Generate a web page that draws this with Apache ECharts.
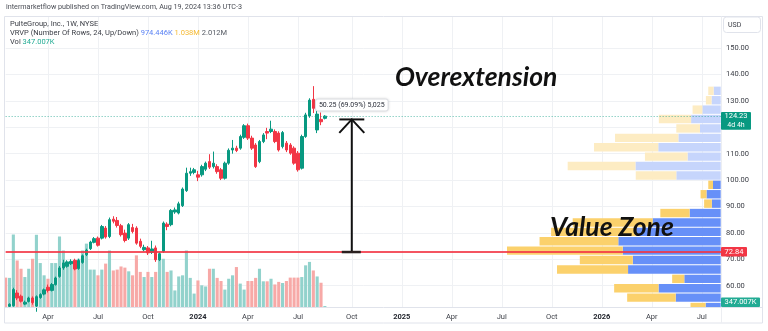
<!DOCTYPE html>
<html>
<head>
<meta charset="utf-8">
<script src="https://cdn.jsdelivr.net/npm/echarts@6/dist/echarts.min.js"></script>
<style>
  html, body { margin: 0; padding: 0; background: #ffffff; }
  #chart { width: 768px; height: 331px; }
</style>
</head>
<body>
<div id="chart"></div>
<script>
// ---- Weekly PulteGroup (PHM) bars, NYSE ----
// Time scale: one category per week (Mondays), running past the last bar into 2026.
const firstWeek = '2023-01-16';
const weekCount = 187;

// Weekly bars from 2023-01-16 to 2024-08-19: [open, close, low, high]
const ohlc = [
  [51.8, 51.2, 50.4, 52.3], [52.2, 52.9, 51.5, 53.3], [52.4, 58.5, 52.0, 59.2], [57.2, 55.3, 54.5, 58.3],
  [56.0, 54.1, 53.6, 56.6], [53.0, 53.7, 52.6, 54.3], [54.0, 55.3, 53.6, 55.8], [55.3, 53.6, 52.8, 55.9],
  [52.3, 55.8, 50.1, 56.3], [55.5, 56.6, 55.0, 57.1], [56.8, 58.4, 56.3, 58.9], [59.4, 58.2, 57.4, 60.4],
  [58.2, 60.4, 57.8, 61.0], [60.4, 62.9, 60.0, 63.4], [63.5, 66.7, 63.0, 67.4], [66.7, 68.6, 66.0, 69.8],
  [67.3, 69.0, 66.8, 69.6], [68.3, 69.2, 67.8, 70.0], [69.6, 66.3, 65.8, 70.2], [66.5, 69.5, 66.0, 70.2],
  [68.8, 71.3, 68.3, 71.8], [71.7, 73.4, 71.2, 74.0], [74.0, 76.5, 73.5, 77.0], [76.4, 77.8, 76.0, 78.4],
  [78.0, 75.3, 74.8, 78.6], [78.0, 82.4, 77.5, 83.0], [81.8, 78.4, 77.8, 82.6], [78.6, 85.0, 78.0, 85.8],
  [85.2, 84.4, 83.6, 86.3], [84.7, 82.8, 82.0, 86.0], [82.7, 79.3, 78.6, 83.4], [79.9, 77.1, 76.4, 81.2],
  [78.0, 83.1, 77.3, 83.7], [82.0, 80.5, 79.8, 83.4], [81.8, 76.1, 75.5, 82.5], [76.8, 74.9, 74.2, 77.8],
  [73.6, 74.5, 73.0, 75.5], [74.3, 72.4, 71.6, 75.0], [72.6, 73.9, 72.0, 77.0], [74.3, 69.8, 69.0, 75.2],
  [69.8, 72.1, 69.3, 72.6], [73.0, 83.7, 72.4, 84.3], [83.3, 82.4, 81.0, 84.0], [83.1, 88.5, 82.5, 89.0],
  [87.9, 88.7, 87.2, 89.6], [87.5, 91.0, 87.0, 91.8], [90.3, 96.6, 89.8, 97.2], [96.0, 102.6, 95.5, 104.7],
  [102.6, 103.2, 101.6, 104.7], [102.9, 103.9, 102.2, 104.6], [102.0, 101.1, 99.6, 103.5], [102.0, 105.1, 101.3, 105.8],
  [104.1, 106.4, 103.4, 107.0], [107.0, 104.9, 104.2, 109.8], [105.1, 106.4, 104.4, 110.8], [105.1, 103.2, 102.4, 106.0],
  [103.9, 100.7, 100.0, 104.6], [100.7, 106.4, 100.2, 107.0], [106.4, 111.3, 105.8, 112.0], [111.4, 112.1, 110.0, 115.2],
  [112.1, 111.2, 110.6, 113.0], [112.1, 116.5, 111.5, 117.2], [116.2, 120.6, 115.6, 121.2], [120.6, 115.9, 115.2, 121.4],
  [115.9, 112.1, 111.4, 116.8], [113.3, 105.1, 104.6, 114.0], [107.0, 114.6, 106.4, 115.2], [114.6, 117.1, 114.0, 117.8],
  [118.4, 117.8, 115.5, 119.8], [118.4, 119.3, 117.8, 122.5], [118.4, 114.6, 114.0, 119.2], [117.8, 111.4, 110.8, 118.5],
  [112.7, 118.0, 112.0, 118.6], [114.0, 111.4, 110.6, 114.8], [113.3, 110.2, 109.6, 114.0], [112.1, 106.4, 105.8, 112.8],
  [110.2, 103.9, 103.2, 111.0], [104.5, 116.5, 104.0, 117.2], [116.5, 124.7, 116.0, 125.5], [124.3, 130.3, 123.6, 131.0],
  [130.6, 127.2, 125.4, 135.6], [119.0, 125.0, 117.8, 126.5], [123.0, 122.1, 120.8, 125.6], [123.4, 124.23, 123.0, 124.6]
];

// Weekly volume, millions of shares (last week still in progress)
const volume = [
  10.3, 10.2, 25.4, 16.3, 13.4, 10.5, 13.4, 16.9, 25.3, 15.4, 11.1, 9.9,
  15.4, 15.4, 24.7, 19.8, 14.2, 15.8, 15.8, 16.9, 19.8, 22.2, 13.1, 13.1,
  11.1, 13.1, 15.2, 19.8, 12.8, 13.1, 14.2, 13.8, 12.5, 11.1, 18.1, 12.3,
  10.5, 12.3, 10.5, 12.3, 16.9, 16.9, 12.3, 12.8, 5.8, 10.7, 11.1, 19.8,
  10.2, 4.7, 9.3, 7.6, 7.2, 13.4, 13.4, 10.2, 9.1, 6.1, 9.9, 11.1,
  14.0, 8.2, 6.1, 9.1, 9.1, 10.2, 13.4, 9.0, 9.0, 9.9, 7.9, 8.8,
  8.4, 9.1, 10.3, 10.3, 10.3, 10.5, 14.6, 15.8, 12.8, 10.7, 8.5, 0.347007
];

// Visible-range volume profile: 24 rows from the lowest low to the highest high,
// listed bottom to top, millions of shares (up volume / down volume)
const profileUp = [5.1, 15.2, 21.0, 12.3, 31.3, 29.7, 33.1, 34.6, 28.6, 23.0, 10.5, 3.0,
                   4.8, 2.6, 15.0, 28.8, 11.2, 21.1, 14.3, 7.0, 10.0, 6.2, 3.1, 2.4];
const profileDown = [5.1, 16.4, 15.0, 4.1, 24.0, 17.9, 39.1, 26.6, 28.7, 27.0, 9.9, 2.6,
                     2.0, 1.6, 13.7, 22.9, 14.4, 21.7, 21.4, 8.0, 10.9, 3.3, 1.9, 1.8];
const valueAreaRows = 14;          // rows counted from the bottom that form the value area

const pocPrice = 72.84;            // horizontal level drawn across the chart
const rangeWeek = '2024-10-07';    // price-range measurement
const rangeBase = 72.73;
const rangeTop = 122.98;

const priceTicks = [60, 70, 80, 90, 100, 110, 120, 130, 140, 150];
const priceMin = 51.9;
const priceMax = 161.8;
const volumePaneShare = 0.25;

const legendProfile = ['974.446K', '1.038M', '2.012M'];

// ---- derived helpers ----
const DAY = 86400000;
const t0 = Date.parse(firstWeek + 'T00:00:00Z');
const weeks = [];
for (let k = 0; k < weekCount; k++) weeks.push(new Date(t0 + k * 7 * DAY).toISOString().slice(0, 10));

const MONTHS = ['Jan', 'Feb', 'Mar', 'Apr', 'May', 'Jun', 'Jul', 'Aug', 'Sep', 'Oct', 'Nov', 'Dec'];
function parseDay(v) { return new Date(v + 'T00:00:00Z'); }
function quarterStart(v) { const d = parseDay(v); return d.getUTCDate() <= 7 && d.getUTCMonth() % 3 === 0; }
function fmtK(m) { return (m * 1000).toFixed(3) + 'K'; }

const FONT = 'Roboto, "Liberation Sans", sans-serif';
const NOTE_FONT = 'Lato, "Noto Sans", sans-serif';
const UP = '#089981', DOWN = '#f23645';
const UP_VOL = '#92d2cc', DOWN_VOL = '#f7a9a7';
const PROF_UP = '#6790f8', PROF_DN = '#fbd16c';
const PROF_UP_FADE = '#c6d5fc', PROF_DN_FADE = '#fdecc3';
const TEXT = '#3a3d45';

const profLow = Math.min(...ohlc.map(r => r[2]));
const profHigh = Math.max(...ohlc.map(r => r[3]));
const rowStep = (profHigh - profLow) / profileUp.length;
const profileRows = profileUp.map((u, i) => [profLow + i * rowStep, profLow + (i + 1) * rowStep, u, profileDown[i], i < valueAreaRows ? 1 : 0]);
const profileMax = Math.max(...profileUp.map((u, i) => u + profileDown[i]));

const lastClose = ohlc[ohlc.length - 1][1];
const lastVol = volume[volume.length - 1];

const chart = echarts.init(document.getElementById('chart'), null, { renderer: 'canvas' });

const option = {
  animation: false,
  backgroundColor: '#ffffff',
  textStyle: { fontFamily: FONT },
  grid: [
    { left: 5.65, right: 47, top: 17, bottom: 24, outerBoundsMode: 'none' },
    { left: 507, right: 47.3, top: 17, bottom: 24, outerBoundsMode: 'none' }
  ],
  xAxis: [
    {
      type: 'category', gridIndex: 0, data: weeks, boundaryGap: false,
      axisLine: { show: false }, axisTick: { show: false },
      axisLabel: {
        interval: (i, v) => quarterStart(v),
        formatter: v => { const d = parseDay(v); return d.getUTCMonth() === 0 ? '{y|' + d.getUTCFullYear() + '}' : MONTHS[d.getUTCMonth()]; },
        fontSize: 7.5, color: TEXT, margin: 6, fontFamily: FONT,
        rich: { y: { fontSize: 7.5, fontWeight: 'bold', color: '#23262e', fontFamily: FONT } }
      },
      splitLine: { show: true, interval: (i, v) => quarterStart(v), lineStyle: { color: '#eff1f4', width: 1 } }
    },
    { type: 'value', gridIndex: 1, inverse: true, min: 0, max: profileMax, show: false }
  ],
  yAxis: [
    {
      type: 'value', gridIndex: 0, position: 'right', min: priceMin, max: priceMax,
      axisLine: { show: false },
      axisTick: { show: false, customValues: priceTicks },
      axisLabel: { customValues: priceTicks, formatter: v => v.toFixed(2), fontSize: 7.5, color: TEXT, margin: 5, fontFamily: FONT },
      splitLine: { show: true, lineStyle: { color: '#eff1f4', width: 1 } }
    },
    { type: 'value', gridIndex: 0, min: 0, max: Math.max(...volume) / volumePaneShare, show: false },
    { type: 'value', gridIndex: 1, min: priceMin, max: priceMax, show: false }
  ],
  series: [
    {
      name: 'Vol', type: 'bar', xAxisIndex: 0, yAxisIndex: 1, barWidth: 3.1, z: 1, silent: true,
      data: volume.map((v, i) => ({ value: v, itemStyle: { color: ohlc[i][1] >= ohlc[i][0] ? UP_VOL : DOWN_VOL } }))
    },
    {
      name: 'PHM', type: 'candlestick', xAxisIndex: 0, yAxisIndex: 0, barWidth: 3, z: 3, silent: true,
      data: ohlc,
      itemStyle: { color: UP, color0: DOWN, borderColor: UP, borderColor0: DOWN, borderWidth: 1 },
      markLine: {
        silent: true, symbol: 'none', label: { show: false },
        data: [
          { yAxis: pocPrice, lineStyle: { color: 'rgba(242,54,69,0.85)', width: 2, type: 'solid' } },
          { yAxis: lastClose, lineStyle: { color: 'rgba(8,153,129,0.65)', width: 1, type: [1, 2] } }
        ]
      }
    },
    {
      name: 'VRVP', type: 'custom', xAxisIndex: 1, yAxisIndex: 2, z: 2, silent: true, clip: true,
      encode: { x: [2, 3], y: [0, 1] },
      data: profileRows,
      renderItem(params, api) {
        const lo = api.value(0), hi = api.value(1), up = api.value(2), dn = api.value(3), va = api.value(4);
        const a = api.coord([0, hi]);
        const b = api.coord([0, lo]);
        const u = api.coord([up, lo]);
        const s = api.coord([up + dn, lo]);
        const top = a[1] + 0.5, h = Math.max(b[1] - a[1] - 1, 0.5);
        return {
          type: 'group', children: [
            { type: 'rect', shape: { x: u[0], y: top, width: a[0] - u[0], height: h }, style: { fill: va ? PROF_UP : PROF_UP_FADE } },
            { type: 'rect', shape: { x: s[0], y: top, width: u[0] - s[0], height: h }, style: { fill: va ? PROF_DN : PROF_DN_FADE } }
          ]
        };
      }
    },
    {
      name: 'Range', type: 'custom', xAxisIndex: 0, yAxisIndex: 0, z: 6, silent: true, clip: false,
      encode: { x: 0, y: [1, 2] },
      data: [[rangeWeek, rangeBase, rangeTop]],
      renderItem(params, api) {
        const x = api.value(0), base = api.value(1), topV = api.value(2);
        const b = api.coord([x, base]);
        const t = api.coord([x, topV]);
        const diff = topV - base;
        const label = diff.toFixed(2) + ' (' + (diff / base * 100).toFixed(2) + '%) ' + Math.round(diff * 100).toLocaleString('en-US');
        const ink = '#111111';
        return {
          type: 'group', children: [
            { type: 'line', shape: { x1: b[0], y1: b[1], x2: t[0], y2: t[1] }, style: { stroke: ink, lineWidth: 2 } },
            { type: 'line', shape: { x1: b[0] - 10, y1: b[1], x2: b[0] + 9, y2: b[1] }, style: { stroke: '#2a2020', lineWidth: 2.5 } },
            { type: 'line', shape: { x1: t[0] - 12.5, y1: t[1], x2: t[0] + 12.5, y2: t[1] }, style: { stroke: ink, lineWidth: 2 } },
            { type: 'polyline', shape: { points: [[t[0] - 12.5, t[1] + 13.5], [t[0], t[1]], [t[0] + 12.5, t[1] + 13.5]] }, style: { stroke: ink, lineWidth: 2, fill: null } },
            {
              type: 'text', x: t[0], y: t[1] - 14.5,
              style: {
                text: label, fontSize: 7, fontFamily: FONT, fill: '#2a2e39', align: 'center', verticalAlign: 'middle',
                backgroundColor: '#ffffff', padding: [2, 3, 2, 3], borderColor: '#e6e8ec', borderWidth: 1, borderRadius: 2,
                shadowBlur: 3, shadowColor: 'rgba(0,0,0,0.12)'
              }
            }
          ]
        };
      }
    }
  ]
};

chart.setOption(option);

// ---- frame, header, annotations and price-scale tags ----
const yClose = chart.convertToPixel({ yAxisIndex: 0 }, lastClose);
const yPoc = chart.convertToPixel({ yAxisIndex: 0 }, pocPrice);
const paneBottom = chart.convertToPixel({ yAxisIndex: 1 }, 0);
const yVol = Math.min(chart.convertToPixel({ yAxisIndex: 1 }, lastVol), paneBottom - 4.75);
const axisX = 721;
const BORDER = '#e0e3eb';

function txt(x, y, text, extra) {
  return { type: 'text', x, y, z: 100, style: Object.assign({ text, fontSize: 7.5, fontFamily: FONT, fill: TEXT, verticalAlign: 'middle' }, extra || {}) };
}

chart.setOption({
  graphic: [
    { type: 'rect', z: 90, shape: { x: 4.5, y: 16.5, width: 758, height: 306.5 }, style: { fill: null, stroke: BORDER, lineWidth: 1 } },
    { type: 'line', z: 90, shape: { x1: 4.5, y1: 307.5, x2: 762.5, y2: 307.5 }, style: { stroke: BORDER, lineWidth: 1 } },
    { type: 'line', z: 90, shape: { x1: axisX + 0.5, y1: 16.5, x2: axisX + 0.5, y2: 323 }, style: { stroke: '#eceef2', lineWidth: 1 } },

    txt(6, 6.8, 'intermarketflow published on TradingView.com, Aug 19, 2024 13:36 UTC-3', { fill: '#4a4d55', fontSize: 7.2 }),
    txt(10, 23.8, 'PulteGroup, Inc., 1W, NYSE'),
    txt(10, 33, 'VRVP (Number Of Rows, 24, Up/Down) {u|' + legendProfile[0] + '} {d|' + legendProfile[1] + '} {t|' + legendProfile[2] + '}', {
      rich: {
        u: { fill: '#5a82f4', fontSize: 7.5, fontFamily: FONT },
        d: { fill: '#f5b932', fontSize: 7.5, fontFamily: FONT },
        t: { fill: '#555a63', fontSize: 7.5, fontFamily: FONT }
      }
    }),
    txt(10, 42.3, 'Vol {v|' + fmtK(lastVol) + '}', { rich: { v: { fill: '#22ab94', fontSize: 7.5, fontFamily: FONT } } }),

    { type: 'rect', z: 100, shape: { x: 723.5, y: 17, width: 37, height: 15.5, r: 3 }, style: { fill: '#ffffff', stroke: BORDER, lineWidth: 1 } },
    txt(728, 25, 'USD', { fontSize: 7 }),

    txt(395, 77.5, 'Overextension', { fontFamily: NOTE_FONT, fontStyle: 'italic', fontWeight: 'bold', fontSize: 26.5, fill: '#111111' }),
    txt(550, 227, 'Value Zone', { fontFamily: NOTE_FONT, fontStyle: 'italic', fontWeight: 'bold', fontSize: 26.5, fill: '#111111' }),

    { type: 'rect', z: 100, shape: { x: axisX, y: yClose - 4.2, width: 30, height: 17.8, r: 1 }, style: { fill: UP } },
    txt(axisX + 15, yClose + 0.3, lastClose.toFixed(2), { fill: '#ffffff', align: 'center' }),
    txt(axisX + 15, yClose + 9, '4d 4h', { fill: '#ffffff', align: 'center', fontSize: 7 }),

    { type: 'rect', z: 100, shape: { x: axisX, y: yPoc - 4.8, width: 26, height: 9.6, r: 1 }, style: { fill: DOWN } },
    txt(axisX + 13, yPoc + 0.2, pocPrice.toFixed(2), { fill: '#ffffff', align: 'center' }),

    { type: 'rect', z: 100, shape: { x: axisX, y: yVol - 4.8, width: 39, height: 9.6, r: 1 }, style: { fill: '#22ab94' } },
    txt(axisX + 19.5, yVol + 0.2, fmtK(lastVol), { fill: '#ffffff', align: 'center' })
  ]
});
</script>
</body>
</html>
